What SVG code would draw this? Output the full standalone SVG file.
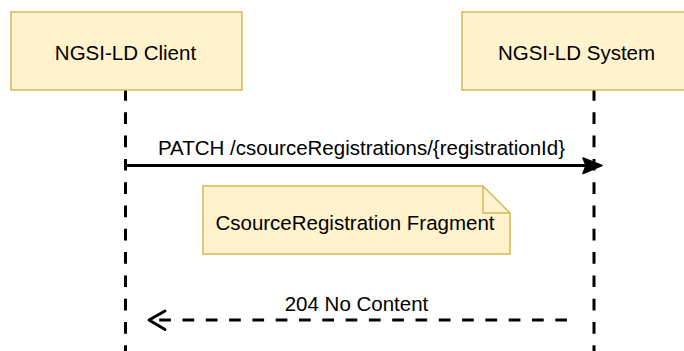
<svg xmlns="http://www.w3.org/2000/svg" width="684" height="351" viewBox="0 0 684 351">
  <style>
    .box { fill: #fff2cc; stroke: #d6b656; stroke-width: 1.5; }
    .txt { font-family: "Liberation Sans", Arial, sans-serif; font-size: 20.5px; fill: #000; text-anchor: middle; }
    .life { stroke: #000; stroke-width: 3; fill: none; stroke-dasharray: 11.7 11.6; }
    .msg { stroke: #000; stroke-width: 3; fill: none; }
    .dash { stroke-dasharray: 11.7 11.6; }
  </style>
  <rect width="684" height="351" fill="#ffffff"/>
  <g id="connectors">
    <line class="life" x1="125.5" y1="89" x2="125.5" y2="351"/>
    <line class="life" x1="594" y1="89" x2="594" y2="351"/>
    <line class="msg" x1="125.5" y1="165.5" x2="588" y2="165.5"/>
    <path d="M583,158 L602,165.5 L583,173.5 L586,165.5 Z" fill="#000" stroke="#000" stroke-width="1.5" stroke-linejoin="round"/>
    <text class="txt" x="361.5" y="155">PATCH /csourceRegistrations/{registrationId}</text>
    <line class="msg dash" x1="567" y1="320" x2="151" y2="320"/>
    <path d="M165,311 L149,320 L165,329.5" class="msg" stroke-linecap="round" stroke-linejoin="round"/>
    <text class="txt" x="356.5" y="311">204 No Content</text>
  </g>
  <g id="client">
    <rect class="box" x="11" y="12" width="231" height="78"/>
    <text class="txt" x="125.5" y="59.5">NGSI-LD Client</text>
  </g>
  <g id="system">
    <rect class="box" x="462" y="12" width="230" height="78"/>
    <text class="txt" x="576.5" y="59.5">NGSI-LD System</text>
  </g>
  <g id="note">
    <path class="box" d="M203,186 H483 L510,213 V254 H203 Z"/>
    <path d="M483,186 V213 H510" fill="none" stroke="#d6b656" stroke-width="1.5"/>
    <text class="txt" x="355" y="230">CsourceRegistration Fragment</text>
  </g>
</svg>
